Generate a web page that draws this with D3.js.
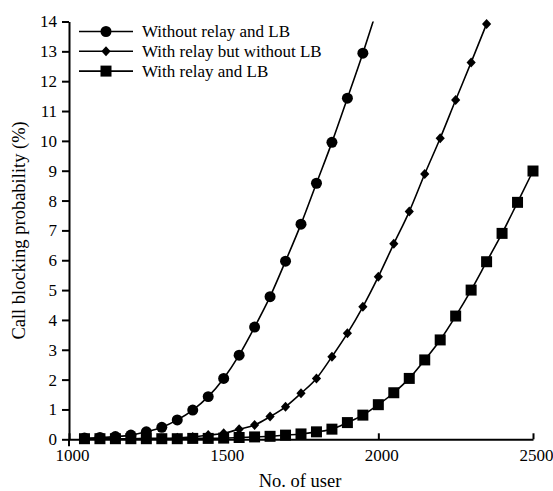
<!DOCTYPE html>
<html>
<head>
<meta charset="utf-8">
<script src="https://cdn.jsdelivr.net/npm/d3@7"></script>
<style>
  body { margin: 0; background: #fff; }
  svg { font-family: "Liberation Serif", "Times New Roman", serif; }
  .axis path, .axis line { stroke: #000; stroke-width: 2px; }
  .axis text { font-size: 17px; fill: #000; font-family: "Liberation Serif", serif; }
  .line { fill: none; stroke: #000; stroke-width: 1.6px; }
</style>
</head>
<body>
<div id="chart"></div>
<script>
// number of users, one point every 50
var users = d3.range(1050, 2501, 50);

// call blocking probability (%)
var noRelay = [0.04, 0.06, 0.09, 0.14, 0.25, 0.40, 0.65, 0.98, 1.43, 2.04,
               2.82, 3.76, 4.78, 5.97, 7.21, 8.58, 9.95, 11.43, 12.94, 14.55];
var relayNoLB = [0.01, 0.01, 0.02, 0.02, 0.03, 0.03, 0.05, 0.08, 0.14, 0.20,
                 0.34, 0.48, 0.76, 1.09, 1.54, 2.04, 2.77, 3.55, 4.44, 5.45,
                 6.55, 7.63, 8.89, 10.09, 11.37, 12.63, 13.92];
var relayLB = [0.02, 0.02, 0.02, 0.02, 0.02, 0.02, 0.02, 0.03, 0.03, 0.04,
               0.06, 0.08, 0.10, 0.14, 0.18, 0.25, 0.34, 0.56, 0.81, 1.16,
               1.56, 2.04, 2.66, 3.33, 4.13, 5.00, 5.95, 6.90, 7.94, 8.99];

var seriesNames = ["Without relay and LB", "With relay but without LB", "With relay and LB"];
var seriesSymbols = ["circle", "diamond", "square"];

var xTicks = [1000, 1500, 2000, 2500];
var yTicks = d3.range(0, 15, 1);

(function() {
  var outerWidth = 553,
      outerHeight = 491;

  var x = d3.scaleLinear()
      .domain([1000, 2500])
      .range([69, 533]);

  var y = d3.scaleLinear()
      .domain([0, 14])
      .range([439.3, 21.5]);

  var svg = d3.select("#chart").append("svg")
      .attr("width", outerWidth)
      .attr("height", outerHeight);

  svg.append("defs").append("clipPath")
      .attr("id", "plot-clip")
    .append("rect")
      .attr("x", 0)
      .attr("y", y(14))
      .attr("width", outerWidth)
      .attr("height", outerHeight - y(14));

  var series = [noRelay, relayNoLB, relayLB].map((vals, i) => ({
    name: seriesNames[i],
    symbol: seriesSymbols[i],
    values: vals.map((v, j) => ({ x: users[j], y: v }))
  }));

  var line = d3.line()
      .curve(d3.curveMonotoneX)
      .x(d => x(d.x))
      .y(d => y(d.y));

  // square turned 45 degrees, wider than d3's own diamond
  var rhombus = {
    draw(ctx, size) {
      var r = Math.sqrt(size / 2);
      ctx.moveTo(0, -r);
      ctx.lineTo(r * 0.92, 0);
      ctx.lineTo(0, r);
      ctx.lineTo(-r * 0.92, 0);
      ctx.closePath();
    }
  };

  var symbolType = {
    circle: d3.symbol().type(d3.symbolCircle).size(95),
    diamond: d3.symbol().type(rhombus).size(50),
    square: d3.symbol().type(d3.symbolSquare).size(121)
  };

  // axes
  svg.append("g")
      .attr("class", "y axis")
      .attr("transform", "translate(" + x(1000) + ",0)")
      .call(d3.axisLeft(y).tickValues(yTicks).tickSize(7).tickSizeOuter(0).tickPadding(5));

  svg.append("g")
      .attr("class", "x axis")
      .attr("transform", "translate(0," + y(0) + ")")
      .call(d3.axisBottom(x).tickValues(xTicks).tickSizeInner(-6).tickSizeOuter(0).tickPadding(10)
        .tickFormat(d3.format("d")))
      .call(g => g.selectAll(".tick text").attr("dx", 3));

  // y axis stub below the x axis
  svg.append("line")
      .attr("x1", x(1000)).attr("x2", x(1000))
      .attr("y1", y(0)).attr("y2", y(0) + 7)
      .attr("stroke", "#000")
      .attr("stroke-width", 2);

  // lines are cut at the top of the axis, markers above 14 are left out
  svg.append("g")
      .attr("clip-path", "url(#plot-clip)")
    .selectAll("path.line")
    .data(series)
    .join("path")
      .attr("class", "line")
      .attr("d", d => line(d.values));

  series.forEach(s => {
    svg.append("g")
      .selectAll("path")
      .data(s.values.filter(d => d.y <= 14))
      .join("path")
        .attr("transform", d => "translate(" + x(d.x) + "," + y(d.y) + ")")
        .attr("d", symbolType[s.symbol])
        .attr("fill", "#000");
  });

  // legend
  var legend = svg.append("g")
      .attr("transform", "translate(79,31.5)");

  var item = legend.selectAll("g")
    .data(series)
    .join("g")
      .attr("transform", (d, i) => "translate(0," + (i * 19.8) + ")");

  item.append("line")
      .attr("x1", 0).attr("x2", 54)
      .attr("stroke", "#000")
      .attr("stroke-width", 1.6);

  item.append("path")
      .attr("transform", "translate(27,0)")
      .attr("d", d => symbolType[d.symbol]())
      .attr("fill", "#000");

  item.append("text")
      .attr("x", 63)
      .attr("dy", "0.35em")
      .attr("font-size", "17px")
      .text(d => d.name);

  // axis titles
  svg.append("text")
      .attr("transform", "translate(300,487)")
      .attr("text-anchor", "middle")
      .attr("font-size", "18.5px")
      .text("No. of user");

  svg.append("text")
      .attr("transform", "translate(25," + y(7) + ") rotate(-90)")
      .attr("text-anchor", "middle")
      .attr("font-size", "18.5px")
      .text("Call blocking probability (%)");
})();
</script>
</body>
</html>
